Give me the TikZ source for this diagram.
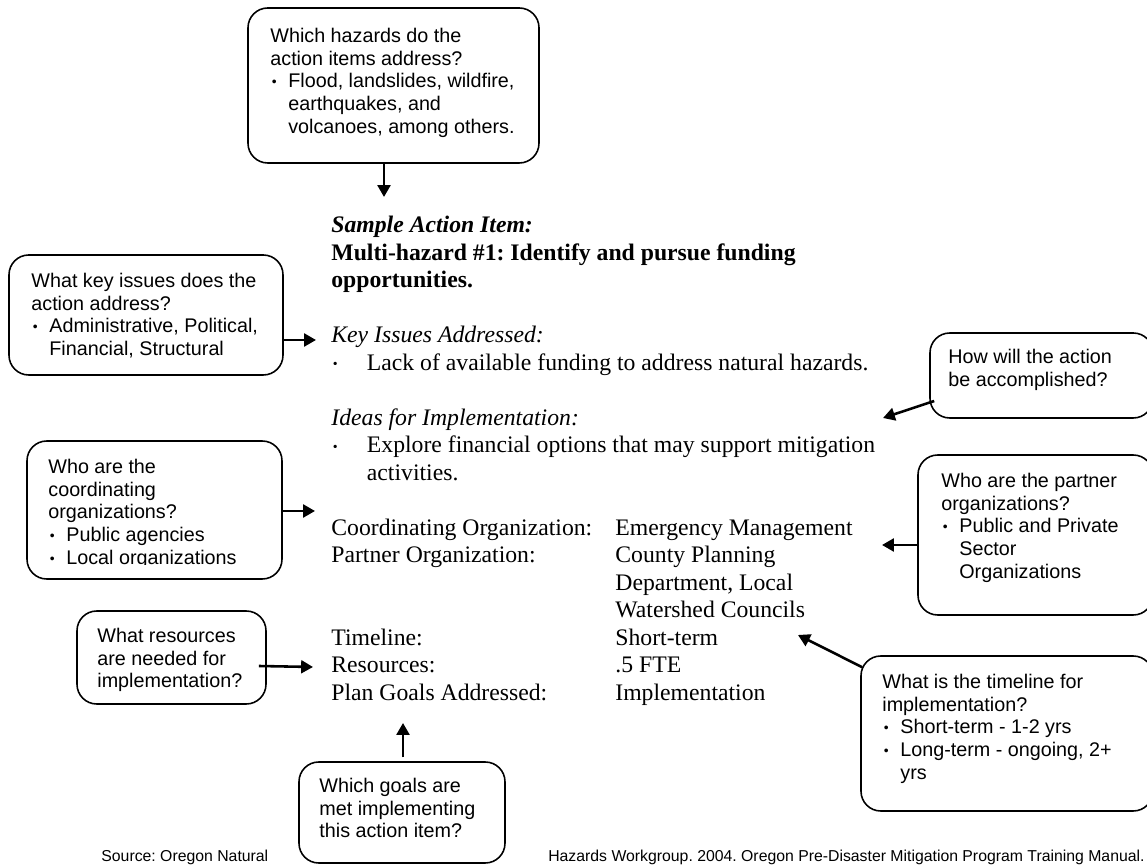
\documentclass[tikz,border=0pt]{standalone}
\usepackage{fontspec}
\setmainfont{Liberation Serif}
\setsansfont{Liberation Sans}
\usetikzlibrary{arrows.meta,fit}
\frenchspacing

\newcommand{\bul}{\makebox[9.1pt][l]{\hspace{0.8pt}\raisebox{0.6pt}{\fontsize{7}{7}\selectfont •}}}
\newcommand{\ind}{\hspace*{9.1pt}}
\newcommand{\mbul}{\makebox[18pt][l]{\hspace{0.8pt}\raisebox{0.8pt}{\fontsize{7}{7}\selectfont •}}}
\newcommand{\col}[1]{\makebox[143.8pt][l]{#1}}

\begin{document}
\begin{tikzpicture}[x=0.5063pt,y=-0.5063pt,
  qbox/.style={draw,rounded corners=10pt,line width=0.8pt,inner sep=0pt,fill=white},
  qtext/.style={anchor=north west,inner sep=0pt,align=left,font=\sffamily\fontsize{10}{11.5}\selectfont},
  main/.style={anchor=north west,inner sep=0pt,align=left,font=\fontsize{12}{13.92}\selectfont},
  src/.style={inner sep=0pt,font=\sffamily\fontsize{8}{9.6}\selectfont},
  arr/.style={line width=1.3pt,-{Triangle[length=6pt,width=6.5pt]}}]

\useasboundingbox (0,0) rectangle (1147,865);
\clip (0,0) rectangle (1147,865);

% question boxes
\node[qbox,fit={(248,8) (539,163)}] (haz) {};
\node[qbox,fit={(9,255) (283,375)}] (key) {};
\node[qbox,fit={(27,441) (282,579)}] (coord) {};
\node[qbox,fit={(77,611) (266,704)}] (res) {};
\node[qbox,fit={(299,762) (505,863)}] (goals) {};
\node[qbox,fit={(930,333) (1153,418)}] (how) {};
\node[qbox,fit={(918,455) (1153,615)}] (part) {};
\node[qbox,fit={(861,656) (1153,811)}] (time) {};

\node[qtext] (hazt) at (270,26.1) {\strut Which hazards do the\\ action items address?\\ \bul Flood, landslides, wildfire,\\ \ind earthquakes, and\\ \ind volcanoes, among others.};
\node[qtext] (keyt) at (31,271.1) {\strut What key issues does the\\ action address?\\ \bul Administrative, Political,\\ \ind Financial, Structural};
\begin{scope}
\clip (27,441) rectangle (282,565);
\node[qtext] (coordt) at (48,457.1) {\strut Who are the\\ coordinating\\ organizations?\\ \bul Public agencies\\ \bul Local organizations};
\end{scope}
\node[qtext] (rest) at (97,626.1) {\strut What resources\\ are needed for\\ implementation?};
\node[qtext] (goalst) at (319,776.1) {\strut Which goals are\\ met implementing\\ this action item?};
\node[qtext] (howt) at (948,347.1) {\strut How will the action\\ be accomplished?};
\node[qtext] (partt) at (941,471.1) {\strut Who are the partner\\ organizations?\\ \bul Public and Private\\ \ind Sector\\ \ind Organizations};
\node[qtext] (timet) at (882,672.1) {\strut What is the timeline for\\ implementation?\\ \bul Short-term - 1-2 yrs\\ \bul Long-term - ongoing, 2+\\ \ind yrs};

% sample action item
\node[main] (head) at (331,213.3) {\strut\textbf{\textit{Sample Action Item:}}\\ \textbf{Multi-hazard \#1: Identify and pursue funding}\\ \textbf{opportunities.}};
\node[main] (issues) at (331,323.3) {\strut\textit{Key Issues Addressed:}\\ \mbul Lack of available funding to address natural hazards.};
\node[main] (ideas) at (331,405.8) {\strut\textit{Ideas for Implementation:}\\ \mbul Explore financial options that may support mitigation\\ \hspace*{18pt}activities.};
\node[main] (fields) at (331,515.8) {\strut\col{Coordinating Organization:}Emergency Management\\
  \col{Partner Organization:}County Planning\\
  \col{}Department, Local\\
  \col{}Watershed Councils\\
  \col{Timeline:}Short-term\\
  \col{Resources:}.5 FTE\\
  \col{Plan Goals Addressed:}Implementation};

\node[src,anchor=base west] (src1) at (101,862) {Source: Oregon Natural};
\node[src,anchor=base east] (src2) at (1145,862) {Hazards Workgroup. 2004. Oregon Pre-Disaster Mitigation Program Training Manual.};

% arrows
\coordinate (tiphaz) at (384,197);
\coordinate (tipkey) at (316,340);
\coordinate (tipcoord) at (315,511);
\coordinate (tipres) at (313,667);
\coordinate (tipgoals) at (403,723);
\coordinate (tiphow) at (883,418);
\coordinate (tippart) at (882,545);
\coordinate (tiptime) at (798,635);

\draw[arr] (haz.south -| tiphaz) -- (tiphaz);
\draw[arr] (key.east |- tipkey) -- (tipkey);
\draw[arr] (coord.east |- tipcoord) -- (tipcoord);
\draw[arr] ([shift={(-8,8.5)}]res.east) -- (tipres);
\draw[arr] ([yshift=2pt]goals.north -| tipgoals) -- (tipgoals);
\draw[arr] ([shift={(5,25.5)}]how.west) -- (tiphow);
\draw[arr] (part.west |- tippart) -- (tippart);
\draw[arr] ([shift={(2,12)}]time.north west) -- (tiptime);

\end{tikzpicture}
\end{document}
